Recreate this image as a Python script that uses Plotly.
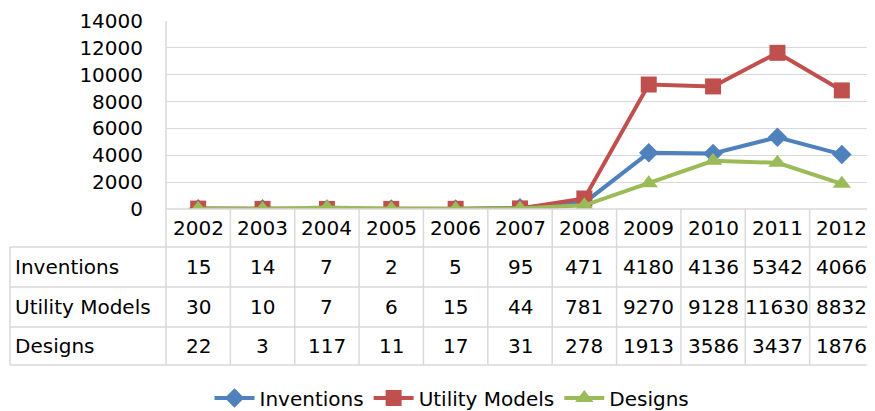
import plotly.graph_objects as go

years = ['2002', '2003', '2004', '2005', '2006', '2007', '2008', '2009', '2010', '2011', '2012']
inventions = [15, 14, 7, 2, 5, 95, 471, 4180, 4136, 5342, 4066]
utility_models = [30, 10, 7, 6, 15, 44, 781, 9270, 9128, 11630, 8832]
designs = [22, 3, 117, 11, 17, 31, 278, 1913, 3586, 3437, 1876]
y_ticks = [0, 2000, 4000, 6000, 8000, 10000, 12000, 14000]

# page body has an 8px margin, so the figure is 8px smaller and offset
OFF = 8
W, H = 875 - OFF, 411 - OFF
FONT = 'DejaVu Sans'
GRID = '#d9d9d9'


def px(x):
    # window pixel column -> paper x
    return (x - OFF) / W


def py(y):
    # window pixel row -> paper y
    return 1 - (y - OFF) / H


series = [
    ('Inventions', inventions, '#4F81BD', 'diamond', 15),
    ('Utility Models', utility_models, '#C0504D', 'square', 16),
    ('Designs', designs, '#9BBB59', 'triangle-up', 16),
]

fig = go.Figure()
for name, vals, color, sym, size in series:
    fig.add_trace(go.Scatter(
        x=years, y=vals, name=name, mode='lines+markers',
        line=dict(color=color, width=4),
        marker=dict(symbol=sym, size=size, color=color),
    ))

# plot area sits between these window pixel positions
left, right, top, bottom = 166, 874, 21, 209

fig.update_layout(
    width=W, height=H,
    margin=dict(l=0, r=0, t=0, b=0, autoexpand=False),
    paper_bgcolor='white', plot_bgcolor='white',
    font=dict(family=FONT, size=20, color='black'),
    xaxis=dict(domain=[px(left), px(right)], type='category', range=[-0.5, 10.5],
               showgrid=False, showticklabels=False, zeroline=False, showline=False,
               automargin=False),
    yaxis=dict(domain=[py(bottom), py(top)], range=[0, 14000], tickvals=y_ticks,
               tickformat='d', automargin=False,
               showgrid=True, gridcolor=GRID, gridwidth=1, zeroline=False, showline=False,
               ticks='outside', ticklen=18, tickcolor='rgba(0,0,0,0)'),
    legend=dict(orientation='h', x=px(452), xanchor='center', y=py(398), yanchor='middle',
                font=dict(family=FONT, size=20), itemwidth=40),
    showlegend=True,
)

# data table below the chart
row_lines = [247, 287, 327, 365]
row_mid = [228, 267, 307, 346]
table_left = 10

shapes = []
for yl in row_lines:
    shapes.append(dict(type='line', xref='paper', yref='paper', x0=px(table_left), x1=px(right),
                       y0=py(yl), y1=py(yl), line=dict(color=GRID, width=1.5)))
# zero line across plot
shapes.append(dict(type='line', xref='paper', yref='paper', x0=px(left), x1=px(right),
                   y0=py(bottom), y1=py(bottom), line=dict(color=GRID, width=1.5)))
# left border of plot + table
shapes.append(dict(type='line', xref='paper', yref='paper', x0=px(left), x1=px(left),
                   y0=py(top), y1=py(365), line=dict(color=GRID, width=1.5)))
shapes.append(dict(type='line', xref='paper', yref='paper', x0=px(table_left), x1=px(table_left),
                   y0=py(247), y1=py(365), line=dict(color=GRID, width=1.5)))
for i in range(len(years)):
    shapes.append(dict(type='line', xref='x', yref='paper', x0=i + 0.5, x1=i + 0.5,
                       y0=py(bottom), y1=py(365), line=dict(color=GRID, width=1.5)))

annotations = []
for i, yr in enumerate(years):
    annotations.append(dict(x=i, xref='x', y=py(row_mid[0]), yref='paper', text=yr,
                            showarrow=False, xanchor='center', yanchor='middle'))
for r, (name, vals, _, _, _) in enumerate(series):
    ym = py(row_mid[r + 1])
    annotations.append(dict(x=px(table_left + 3), xref='paper', y=ym, yref='paper', text=name,
                            showarrow=False, xanchor='left', yanchor='middle'))
    for i, v in enumerate(vals):
        annotations.append(dict(x=i, xref='x', y=ym, yref='paper', text=str(v),
                                showarrow=False, xanchor='center', yanchor='middle'))

fig.update_layout(shapes=shapes, annotations=annotations)

fig.write_html("out.html")
